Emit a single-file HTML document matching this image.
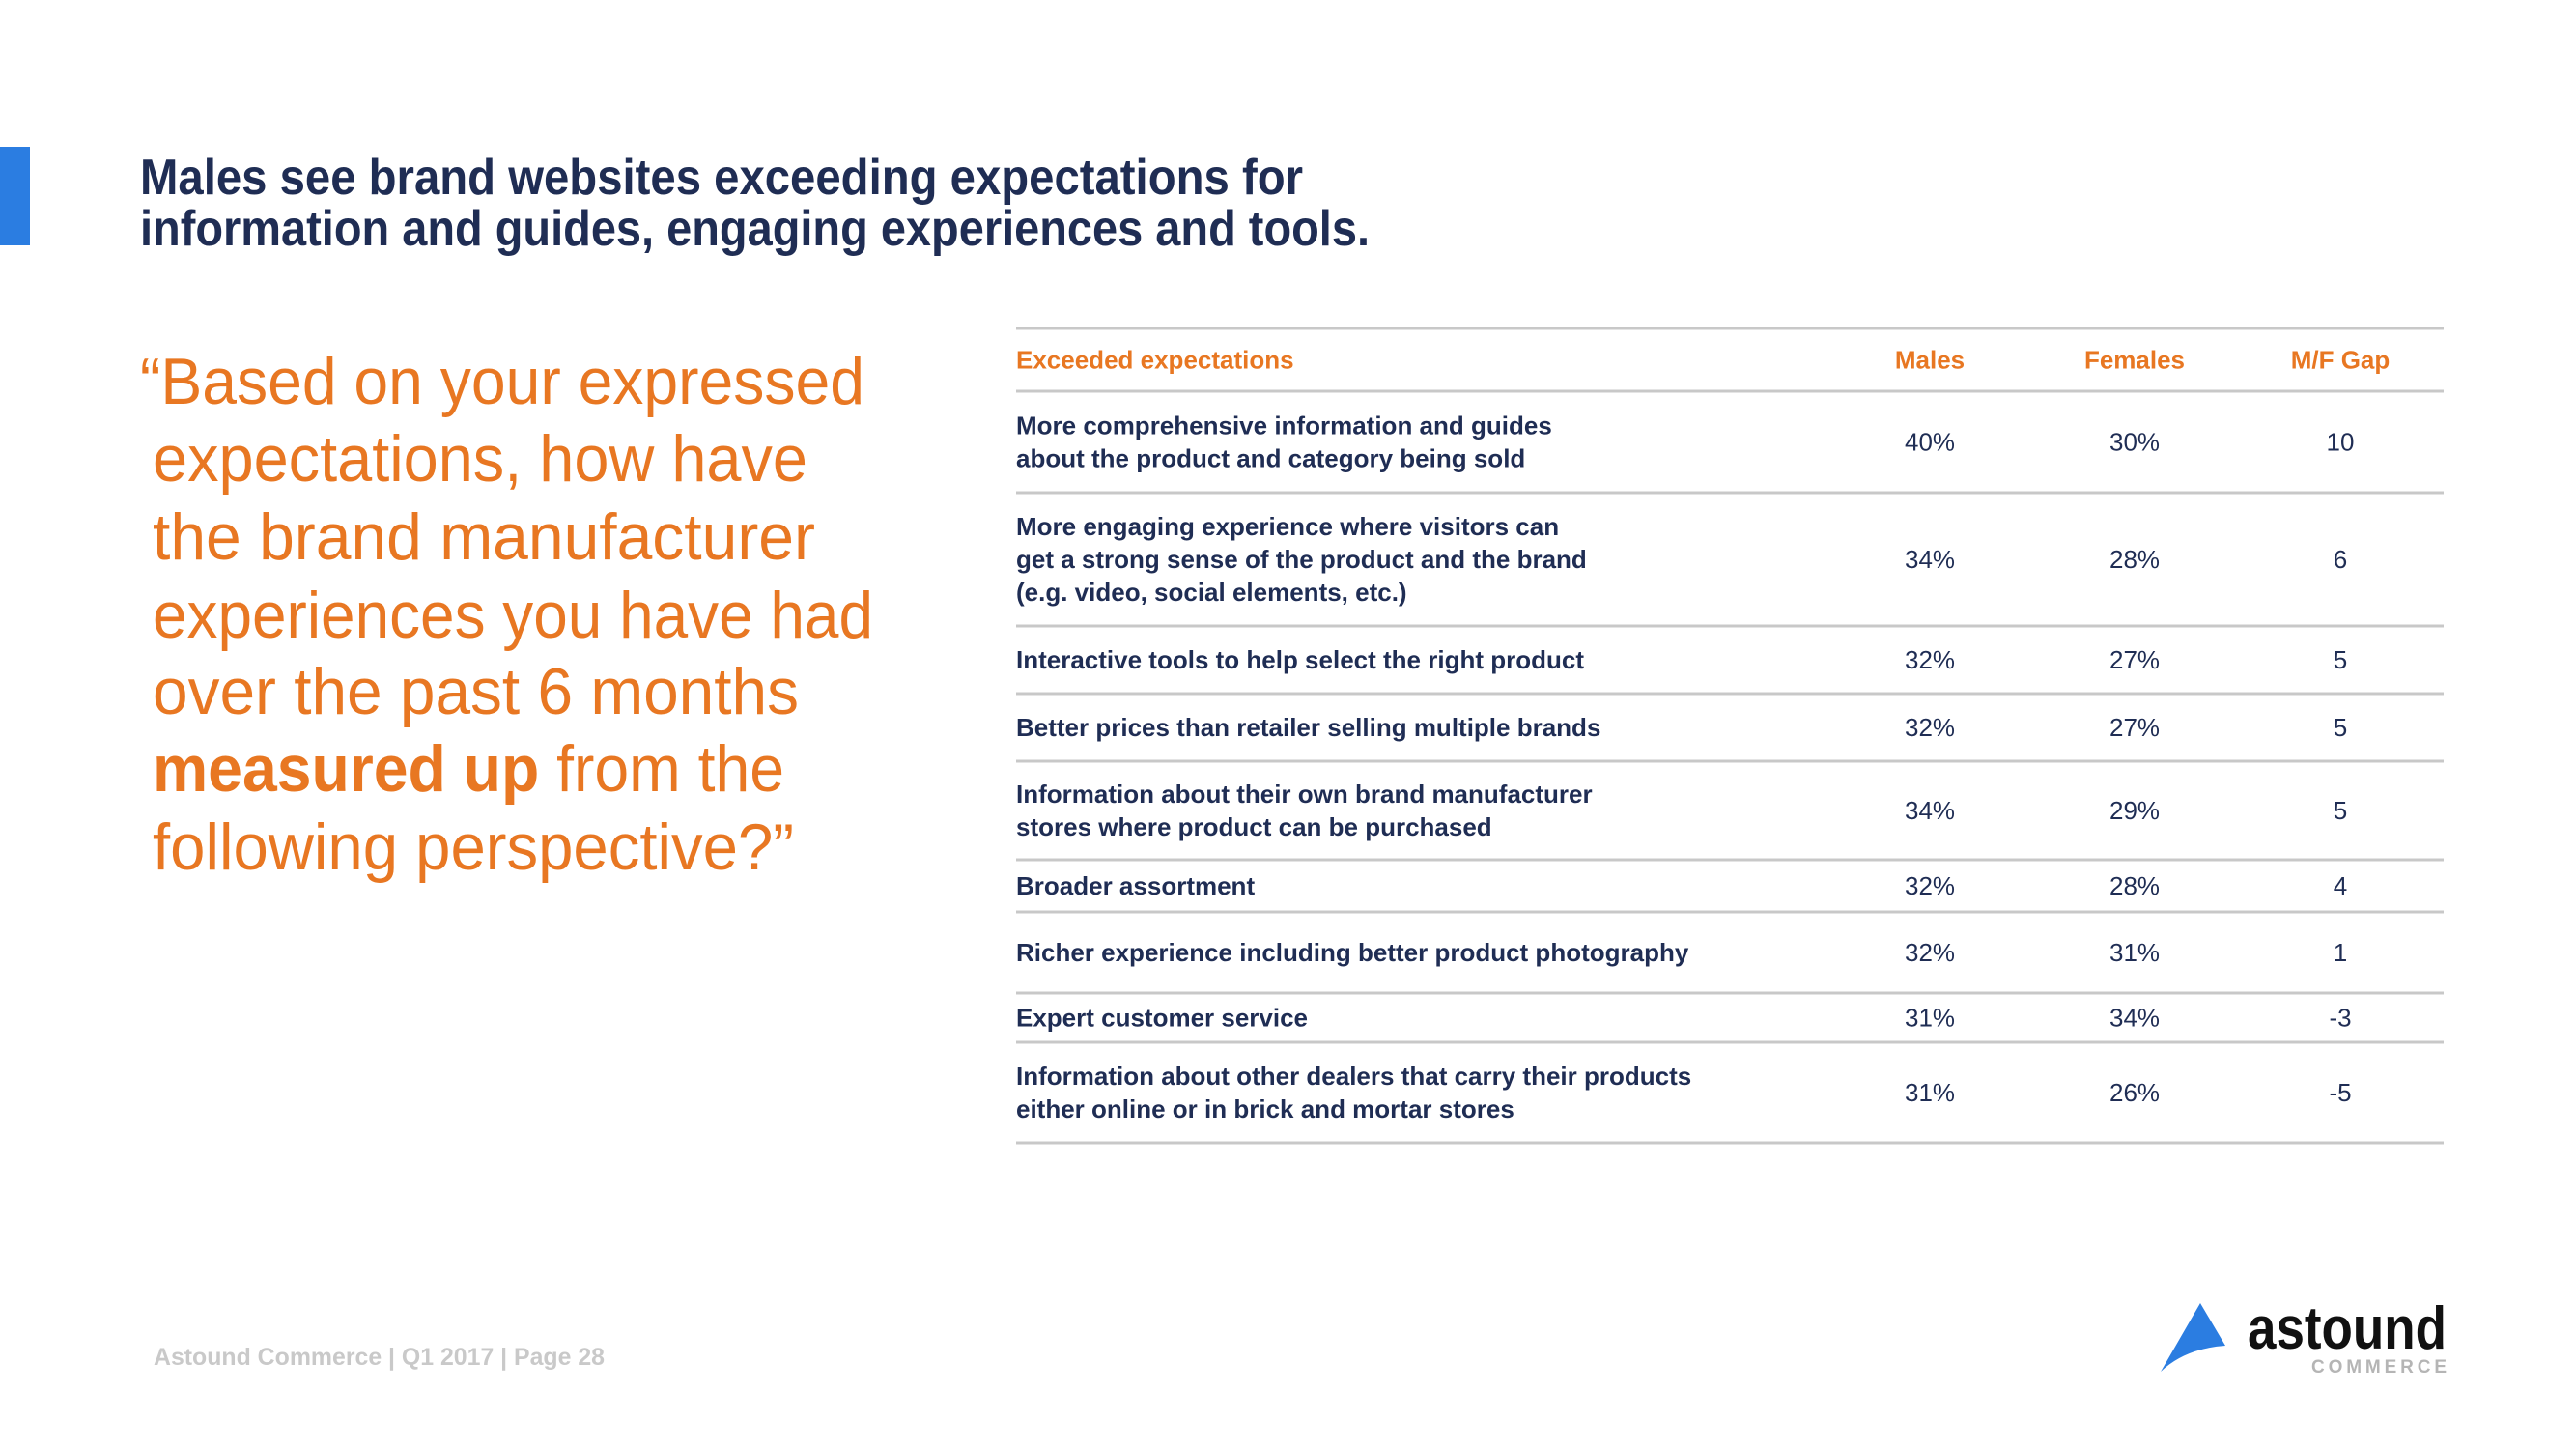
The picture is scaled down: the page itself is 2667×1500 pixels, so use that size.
<!DOCTYPE html>
<html><head><meta charset="utf-8">
<style>
html,body{margin:0;padding:0;background:#fff;}
svg{display:block;}
text{font-family:"Liberation Sans",Arial,sans-serif;}
</style></head>
<body>
<svg id="slide" width="2667" height="1500" viewBox="0 0 2667 1500" xmlns="http://www.w3.org/2000/svg">
<rect x="0" y="152" width="31" height="102" fill="#2b7de1"/>
<g fill="#1f2d54" font-weight="bold" font-size="52">
<text x="145" y="201" textLength="1204" lengthAdjust="spacingAndGlyphs">Males see brand websites exceeding expectations for</text>
<text x="145" y="254" textLength="1273" lengthAdjust="spacingAndGlyphs">information and guides, engaging experiences and tools.</text>
</g>
<g fill="#e87722" font-size="68" font-weight="300">
<text x="145" y="418" textLength="750" lengthAdjust="spacingAndGlyphs">“Based on your expressed</text>
<text x="158" y="498" textLength="678" lengthAdjust="spacingAndGlyphs">expectations, how have</text>
<text x="158" y="579" textLength="686" lengthAdjust="spacingAndGlyphs">the brand manufacturer</text>
<text x="158" y="660" textLength="746" lengthAdjust="spacingAndGlyphs">experiences you have had</text>
<text x="158" y="739" textLength="669" lengthAdjust="spacingAndGlyphs">over the past 6 months</text>
<text x="158" y="819" textLength="654" lengthAdjust="spacingAndGlyphs"><tspan font-weight="bold">measured up</tspan> from the</text>
<text x="158" y="900" textLength="664" lengthAdjust="spacingAndGlyphs">following perspective?”</text>
</g>
<g id="table"></g>
<text x="159" y="1413" font-size="25" font-weight="bold" fill="#c9c9c9" textLength="467" lengthAdjust="spacingAndGlyphs">Astound Commerce | Q1 2017 | Page 28</text>
<g>
<path d="M2278 1349 L2304 1393 Q2262 1396 2237 1420 Z" fill="#2b7de1"/>
<text x="2327" y="1396" font-size="62" font-weight="bold" fill="#111" textLength="206" lengthAdjust="spacingAndGlyphs">astound</text>
<text x="2393" y="1421" font-size="19" font-weight="bold" fill="#b5b5b5" textLength="140" lengthAdjust="spacing">COMMERCE</text>
</g>
</svg>
<script>
const headers = ["Exceeded expectations", "Males", "Females", "M/F Gap"];
const labels = [
  ["More comprehensive information and guides", "about the product and category being sold"],
  ["More engaging experience where visitors can", "get a strong sense of the product and the brand", "(e.g. video, social elements, etc.)"],
  ["Interactive tools to help select the right product"],
  ["Better prices than retailer selling multiple brands"],
  ["Information about their own brand manufacturer", "stores where product can be purchased"],
  ["Broader assortment"],
  ["Richer experience including better product photography"],
  ["Expert customer service"],
  ["Information about other dealers that carry their products", "either online or in brick and mortar stores"]
];
const males = [40, 34, 32, 32, 34, 32, 32, 31, 31];
const females = [30, 28, 27, 27, 29, 28, 31, 34, 26];
const gaps = [10, 6, 5, 5, 5, 4, 1, -3, -5];

const NS = "http://www.w3.org/2000/svg";
const tbl = document.getElementById('table');
const X0 = 1052, X1 = 2530;
const colX = [1052, 1998, 2210, 2423];
const rules = [340, 405, 510, 648, 718, 788, 890, 944, 1028, 1079, 1183];
const SQ = 1.0;
function txt(x, y, s, opts) {
  const t = document.createElementNS(NS, 'text');
  t.setAttribute('x', x); t.setAttribute('y', y);
  t.setAttribute('dominant-baseline', 'central');
  t.setAttribute('font-size', opts.size || 26);
  t.setAttribute('fill', opts.fill);
  if (opts.bold) t.setAttribute('font-weight', 'bold');
  if (opts.anchor) t.setAttribute('text-anchor', opts.anchor);
  t.textContent = s;
  tbl.appendChild(t);
  const w = t.getComputedTextLength();
  t.setAttribute('textLength', (w * SQ).toFixed(1));
  t.setAttribute('lengthAdjust', 'spacingAndGlyphs');
  return t;
}
rules.forEach((y, i) => {
  const l = document.createElementNS(NS, 'line');
  l.setAttribute('x1', X0); l.setAttribute('x2', X1);
  l.setAttribute('y1', y); l.setAttribute('y2', y);
  l.setAttribute('stroke', '#c8c8c8'); l.setAttribute('stroke-width', 3);
  
  
  tbl.appendChild(l);
});
const hy = (rules[0] + rules[1]) / 2;
headers.forEach((h, i) => {
  const t = txt(colX[i], hy, h, {fill: '#e87722', bold: true, anchor: i ? 'middle' : 'start'});
  
  
});
labels.forEach((lines, r) => {
  const mid = (rules[r + 1] + rules[r + 2]) / 2;
  lines.forEach((s, k) => {
    const t = txt(colX[0], mid + (k - (lines.length - 1) / 2) * 34, s, {fill: '#1f2d54', bold: true});
    
    
  });
  const m = txt(colX[1], mid, males[r] + '%', {fill: '#1f2d54', anchor: 'middle'});
  
  
  const f = txt(colX[2], mid, females[r] + '%', {fill: '#1f2d54', anchor: 'middle'});
  
  
  const g = txt(colX[3], mid, String(gaps[r]), {fill: '#1f2d54', anchor: 'middle'});
  
  
});
</script>
</body></html>
